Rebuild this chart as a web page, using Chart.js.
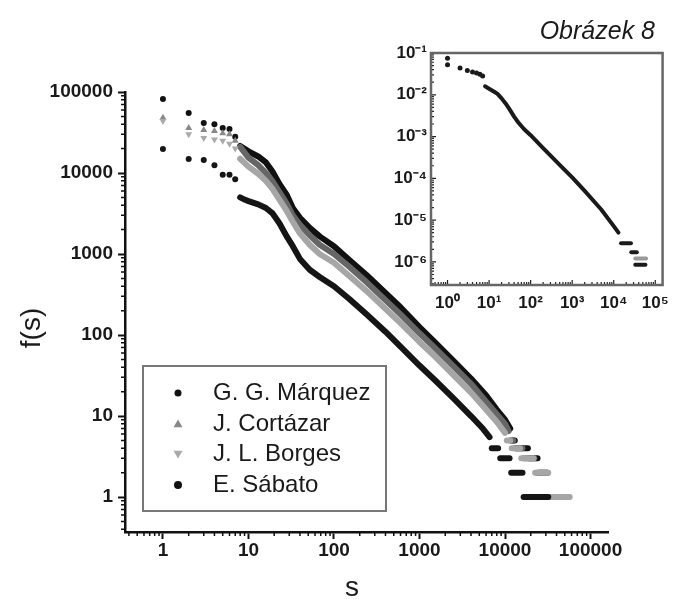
<!DOCTYPE html>
<html>
<head>
<meta charset="utf-8">
<script src="https://cdn.jsdelivr.net/npm/chart.js@4.4.1/dist/chart.umd.min.js"></script>
<style>
  html, body { margin: 0; padding: 0; background: #fff; }
  #wrap { position: relative; width: 677px; height: 599px; }
  #mainChart { position: absolute; left: 0; top: 0; }
  #insetChart { position: absolute; left: 380px; top: 35px; }
</style>
</head>
<body>
<div id="wrap">
  <canvas id="mainChart" width="677" height="599"></canvas>
  <canvas id="insetChart" width="297" height="290"></canvas>
</div>
<script>
const seriesNames = ['G. G. Márquez', 'J. Cortázar', 'J. L. Borges', 'E. Sábato'];

// main panel: rank s / frequency f(s); the first 7 points of each are single dots
const marquezRank = [1, 2, 3, 4, 5, 6, 7, 8, 10, 13, 16, 19, 23, 28, 33, 40, 52, 68, 100, 150, 240, 400, 600, 1000, 1500, 2500, 4000, 6000, 8000, 10000, 11500];
const marquezFreq = [82000, 55000, 41500, 40000, 36000, 35000, 28000, 21600, 18500, 16000, 13500, 10500, 7300, 5400, 3700, 2800, 2100, 1650, 1250, 850, 550, 330, 220, 125, 82, 48, 29, 18, 12, 9, 7];
const cortazarRank = [1, 2, 3, 4, 5, 6, 7, 8, 10, 13, 16, 19, 23, 28, 33, 40, 52, 68, 100, 150, 240, 400, 600, 1000, 1500, 2500, 4000, 6000, 8000, 10000, 11000];
const cortazarFreq = [48000, 36000, 34000, 33000, 31000, 30000, 25000, 21000, 15500, 12500, 10000, 8000, 5800, 4200, 3000, 2300, 1700, 1300, 1000, 700, 450, 270, 180, 105, 70, 41, 25, 15, 10.5, 8, 6.5];
const borgesRank = [1, 2, 3, 4, 5, 6, 7, 8, 10, 13, 16, 19, 23, 28, 33, 40, 52, 68, 100, 150, 240, 400, 600, 1000, 1500, 2500, 4000, 6000, 8000, 10000];
const borgesFreq = [44000, 30000, 27000, 26000, 25000, 23000, 20000, 15000, 12000, 9800, 8000, 6400, 4700, 3400, 2500, 1800, 1300, 1000, 780, 540, 350, 210, 140, 82, 55, 32, 19.5, 12, 8.5, 6.2];
const sabatoRank = [1, 2, 3, 4, 5, 6, 7, 8, 9, 10, 13, 16, 19, 23, 28, 33, 40, 52, 68, 100, 150, 240, 400, 600, 1000, 1500, 2500, 4000, 5500, 6600];
const sabatoFreq = [19800, 14900, 14500, 12500, 9500, 9500, 8400, 5000, 4700, 4500, 4100, 3700, 3200, 2400, 1650, 1250, 870, 640, 520, 400, 280, 180, 110, 72, 42, 28, 16.5, 10, 7, 5.5];

// low-frequency plateaus: [f, first rank, last rank]
const marquezSteps = [[5, 12000, 13000], [4, 13500, 18500], [3, 19000, 24000], [2, 25000, 31000], [1, 35500, 55000]];
const cortazarSteps = [[5, 11500, 12500], [4, 13000, 16000], [3, 16500, 22000], [2, 23500, 31500], [1, 33500, 52000]];
const borgesSteps = [[5, 10500, 11500], [4, 12000, 15000], [3, 15500, 21500], [2, 22500, 32000], [1, 33000, 57000]];
const sabatoSteps = [[4, 7000, 8300], [3, 8800, 11300], [2, 11800, 16000], [1, 16500, 32000]];

// inset: normalised frequency
const insetRank = [1, 1, 2, 3, 4, 5, 6, 7, 8, 10, 13, 16, 20, 25, 32, 40, 50, 70, 100, 200, 500, 1000, 2000, 5000, 10000, 13000];
const insetFreq = [0.075, 0.052, 0.044, 0.038, 0.035, 0.033, 0.031, 0.028, 0.016, 0.014, 0.012, 0.0105, 0.0082, 0.0062, 0.0043, 0.003, 0.0022, 0.0015, 0.00108, 0.00053, 0.00021, 0.000105, 0.00005, 0.000018, 0.0000072, 0.000005];
const insetSteps = [[2.8e-6, 15000, 26000], [1.7e-6, 26500, 36000], [8.5e-7, 33000, 58000]];
const insetGraySteps = [[1.2e-6, 33000, 60000]];

const xTickValues = [1, 10, 100, 1000, 10000, 100000];
const yTickValues = [1, 10, 100, 1000, 10000, 100000];
const insetXTicks = [1, 10, 100, 1000, 10000, 100000];
const insetYTicks = [1e-6, 1e-5, 1e-4, 1e-3, 1e-2, 1e-1];

const FONT = '"Liberation Sans", Arial, sans-serif';
Chart.defaults.font.family = FONT;

function buildPoints(ranks, freqs, steps) {
  const pts = ranks.map((r, i) => ({ x: r, y: freqs[i] }));
  steps.forEach(([f, from, to]) => {
    pts.push({ x: from, y: null });
    pts.push({ x: from, y: f }, { x: to, y: f });
  });
  return pts;
}

function makeDataset(label, pts, color, dotColor, style, rotation, head, width, radius, order) {
  return {
    label,
    data: pts,
    order,
    borderColor: color,
    borderWidth: width,
    borderCapStyle: 'round',
    borderJoinStyle: 'round',
    backgroundColor: dotColor,
    pointBackgroundColor: dotColor,
    pointBorderColor: dotColor,
    pointBorderWidth: 0,
    pointStyle: style,
    pointRotation: rotation,
    pointRadius: ctx => (ctx.dataIndex < head ? radius : 0),
    pointHoverRadius: 0,
    spanGaps: false,
    tension: 0,
    segment: {
      borderColor: ctx => (ctx.p0DataIndex < head ? 'rgba(0,0,0,0)' : color)
    }
  };
}

function minorValues(scale) {
  const vals = [];
  const lo = Math.floor(Math.log10(scale.min));
  const hi = Math.ceil(Math.log10(scale.max));
  for (let e = lo; e <= hi; e++) {
    for (let m = 2; m <= 9; m++) {
      const v = m * Math.pow(10, e);
      if (v >= scale.min && v <= scale.max) vals.push(v);
    }
  }
  return vals;
}

const SUP = { '-': '⁻', '0': '⁰', '1': '¹', '2': '²', '3': '³', '4': '⁴', '5': '⁵', '6': '⁶' };
const powerLabel = v => '10' + String(Math.round(Math.log10(v))).split('').map(c => SUP[c]).join('');

const mainExtras = {
  id: 'mainExtras',
  afterDraw(chart) {
    const { ctx, chartArea: a } = chart;
    const x = chart.scales.x, y = chart.scales.y;
    ctx.save();
    ctx.strokeStyle = '#111';
    ctx.lineWidth = 1.5;
    ctx.beginPath();
    minorValues(x).forEach(v => {
      const px = x.getPixelForValue(v);
      ctx.moveTo(px, a.bottom);
      ctx.lineTo(px, a.bottom + 4);
    });
    minorValues(y).forEach(v => {
      const py = y.getPixelForValue(v);
      ctx.moveTo(a.left - 4, py);
      ctx.lineTo(a.left, py);
    });
    ctx.stroke();

    ctx.fillStyle = '#1a1a1a';
    ctx.font = '28px ' + FONT;
    ctx.textAlign = 'center';
    ctx.textBaseline = 'alphabetic';
    ctx.fillText('s', 352, 596);
    ctx.save();
    ctx.translate(40, 328);
    ctx.rotate(-Math.PI / 2);
    ctx.fillText('f(s)', 0, 0);
    ctx.restore();

    ctx.font = 'italic 25px ' + FONT;
    ctx.textAlign = 'right';
    ctx.fillText('Obrázek 8', 655, 39);

    // legend box
    ctx.fillStyle = '#fff';
    ctx.fillRect(143, 366, 243, 145);
    ctx.strokeStyle = '#777';
    ctx.lineWidth = 2;
    ctx.strokeRect(143, 366, 243, 145);
    const rows = [393, 424, 454, 485];
    const marks = [
      { color: '#111', shape: 'circle', r: 3.5 },
      { color: '#888', shape: 'up', r: 4.5 },
      { color: '#aaa', shape: 'down', r: 4.5 },
      { color: '#111', shape: 'circle', r: 4 }
    ];
    rows.forEach((ry, i) => {
      const m = marks[i];
      ctx.fillStyle = m.color;
      ctx.beginPath();
      if (m.shape === 'circle') {
        ctx.arc(178, ry, m.r, 0, Math.PI * 2);
      } else {
        const d = m.shape === 'up' ? 1 : -1;
        ctx.moveTo(178, ry - d * m.r);
        ctx.lineTo(178 + m.r, ry + d * m.r * 0.7);
        ctx.lineTo(178 - m.r, ry + d * m.r * 0.7);
        ctx.closePath();
      }
      ctx.fill();
      ctx.fillStyle = '#1a1a1a';
      ctx.font = '24px ' + FONT;
      ctx.textAlign = 'left';
      ctx.textBaseline = 'middle';
      ctx.fillText(seriesNames[i], 213, ry);
    });
    ctx.restore();
  }
};

new Chart(document.getElementById('mainChart'), {
  type: 'line',
  data: {
    datasets: [
      makeDataset(seriesNames[0], buildPoints(marquezRank, marquezFreq, marquezSteps), '#111', '#111', 'circle', 0, 7, 6, 3, 4),
      makeDataset(seriesNames[1], buildPoints(cortazarRank, cortazarFreq, cortazarSteps), '#666', '#888', 'triangle', 0, 7, 6, 4, 3),
      makeDataset(seriesNames[2], buildPoints(borgesRank, borgesFreq, borgesSteps), '#a6a6a6', '#aaa', 'triangle', 180, 7, 6, 4, 2),
      makeDataset(seriesNames[3], buildPoints(sabatoRank, sabatoFreq, sabatoSteps), '#151515', '#151515', 'circle', 0, 7, 6, 3, 1)
    ]
  },
  options: {
    responsive: false,
    animation: false,
    events: [],
    layout: { padding: { top: 92, right: 69, bottom: 0, left: 0 } },
    plugins: { legend: { display: false }, tooltip: { enabled: false } },
    scales: {
      x: {
        type: 'logarithmic',
        min: 0.36,
        max: 1.6e5,
        afterBuildTicks: s => { s.ticks = xTickValues.map(v => ({ value: v })); },
        afterFit: s => { s.height = 67; },
        grid: { drawOnChartArea: false, drawTicks: true, tickLength: 7, tickWidth: 2, tickColor: '#111' },
        border: { display: true, color: '#111', width: 2.5 },
        ticks: { autoSkip: false, maxRotation: 0, padding: 0, color: '#1a1a1a', font: { size: 19, weight: 'bold' }, callback: v => String(v) }
      },
      y: {
        type: 'logarithmic',
        min: 0.37,
        max: 100000,
        afterBuildTicks: s => { s.ticks = yTickValues.map(v => ({ value: v })); },
        afterFit: s => { s.width = 125; },
        grid: { drawOnChartArea: false, drawTicks: true, tickLength: 7, tickWidth: 2, tickColor: '#111' },
        border: { display: true, color: '#111', width: 2.5 },
        ticks: { autoSkip: false, padding: 5, color: '#1a1a1a', font: { size: 19, weight: 'bold' }, callback: v => String(v) }
      }
    }
  },
  plugins: [mainExtras]
});

const insetExtras = {
  id: 'insetExtras',
  beforeDatasetsDraw(chart) {
    const { ctx, chartArea: a } = chart;
    ctx.save();
    ctx.fillStyle = '#fff';
    ctx.fillRect(a.left, a.top, a.right - a.left, a.bottom - a.top);
    ctx.restore();
  },
  afterDraw(chart) {
    const { ctx, chartArea: a } = chart;
    const x = chart.scales.x, y = chart.scales.y;
    ctx.save();
    ctx.strokeStyle = '#222';
    ctx.lineWidth = 1.2;
    ctx.beginPath();
    minorValues(x).forEach(v => {
      const px = x.getPixelForValue(v);
      ctx.moveTo(px, a.bottom);
      ctx.lineTo(px, a.bottom - 3);
    });
    insetXTicks.forEach(v => {
      const px = x.getPixelForValue(v);
      ctx.moveTo(px, a.bottom);
      ctx.lineTo(px, a.bottom - 5);
    });
    minorValues(y).forEach(v => {
      const py = y.getPixelForValue(v);
      ctx.moveTo(a.left, py);
      ctx.lineTo(a.left + 3, py);
    });
    insetYTicks.forEach(v => {
      const py = y.getPixelForValue(v);
      ctx.moveTo(a.left, py);
      ctx.lineTo(a.left + 5, py);
    });
    ctx.stroke();
    ctx.strokeStyle = '#666';
    ctx.lineWidth = 2.5;
    ctx.strokeRect(a.left, a.top, a.right - a.left, a.bottom - a.top);
    ctx.restore();
  }
};

new Chart(document.getElementById('insetChart'), {
  type: 'line',
  data: {
    datasets: [
      makeDataset('all', buildPoints(insetRank, insetFreq, insetSteps), '#1a1a1a', '#1a1a1a', 'circle', 0, 8, 4, 2.5, 2),
      makeDataset('gray', buildPoints([], [], insetGraySteps), '#999', '#999', 'circle', 0, 0, 4, 0, 1)
    ]
  },
  options: {
    responsive: false,
    animation: false,
    events: [],
    layout: { padding: { top: 18, right: 9, bottom: 0, left: 0 } },
    plugins: { legend: { display: false }, tooltip: { enabled: false } },
    scales: {
      x: {
        type: 'logarithmic',
        min: 0.4,
        max: 1.5e5,
        afterBuildTicks: s => { s.ticks = insetXTicks.map(v => ({ value: v })); },
        afterFit: s => { s.height = 40; },
        grid: { display: false, drawTicks: false },
        border: { display: false },
        ticks: { autoSkip: false, maxRotation: 0, padding: 8, color: '#1a1a1a', font: { size: 17, weight: 'bold' }, callback: v => powerLabel(v) }
      },
      y: {
        type: 'logarithmic',
        min: 2.8e-7,
        max: 0.1,
        afterBuildTicks: s => { s.ticks = insetYTicks.map(v => ({ value: v })); },
        afterFit: s => { s.width = 51; },
        grid: { display: false, drawTicks: false },
        border: { display: false },
        ticks: { autoSkip: false, padding: 4, color: '#1a1a1a', font: { size: 17, weight: 'bold' }, callback: v => powerLabel(v) }
      }
    }
  },
  plugins: [insetExtras]
});
</script>
</body>
</html>
